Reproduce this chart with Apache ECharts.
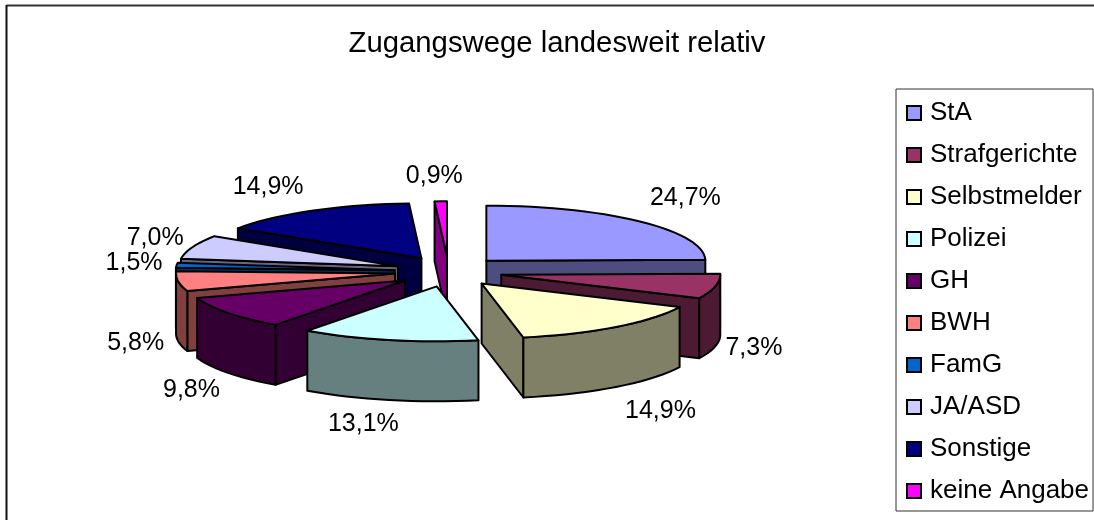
<!DOCTYPE html>
<html><head><meta charset="utf-8">
<style>html,body{margin:0;padding:0;background:#fff}#c{width:1094px;height:520px}</style>
<script src="https://cdn.jsdelivr.net/npm/echarts@6/dist/echarts.min.js"></script>
</head><body><div id="c"></div>
<script>
var categories = ['StA','Strafgerichte','Selbstmelder','Polizei','GH','BWH','FamG','JA/ASD','Sonstige','keine Angabe'];
var percentValues = [24.7,7.3,14.9,13.1,9.8,5.8,1.5,7.0,14.9,0.9];
var topColors = ['#9999FF','#993366','#FFFFCC','#CCFFFF','#660066','#FF8080','#0066CC','#CCCCFF','#000080','#FF00FF'];
var wallColors = ['#4D4D80','#4D1A33','#808066','#668080','#330033','#804040','#003366','#666680','#000040','#800080'];
var paintOrder = [9,8,0,7,6,5,1,4,2,3];
var labelNudge = [[46,-23],[39,64],[45,87],[-25,87],[-36,80],[-42,64],[-42,-1],[-37,-8],[-43,-24],[-6,-25]];

var CX=448.5, CY=271.5, RX=219, RY=55, DEPTH=60, EXPLODE_X=54, EXPLODE_Y=15.2, STROKE=2;
var LABEL_CY=270, LABEL_RY=68.6;
var total = percentValues.reduce(function(a,b){return a+b;},0);
function rad(d){return d*Math.PI/180;}
function fmt(v){return v.toFixed(1).replace('.',',')+'%';}

function makeRender(index){
  return function(params, api){
    var value = api.value(0);
    var before = 0; for(var k=0;k<index;k++) before += percentValues[k];
    var a = before/total*360, b = (before+value)/total*360, m=(a+b)/2;
    var ax = CX+EXPLODE_X*Math.sin(rad(m)), ay = CY-EXPLODE_Y*Math.cos(rad(m));
    function rim(d,h){return [ax+RX*Math.sin(rad(d)), ay-RY*Math.cos(rad(d))+(h||0)];}
    function arc(d0,d1,h){var n=Math.max(2,Math.ceil((d1-d0)/3)),o=[];for(var i=0;i<=n;i++)o.push(rim(d0+(d1-d0)*i/n,h));return o;}
    var line={stroke:'#000',lineWidth:STROKE,lineJoin:'round'};
    var kids=[];
    function poly(points,fill){kids.push({type:'polygon',shape:{points:points},style:Object.assign({fill:fill},line)});}
    function cutFace(d){var r=rim(d);poly([[ax,ay],r,[r[0],r[1]+DEPTH],[ax,ay+DEPTH]],wallColors[index]);}
    if(Math.sin(rad(a))<0) cutFace(a);
    if(Math.sin(rad(b))>0) cutFace(b);
    var w0=Math.max(a,90), w1=Math.min(b,270);
    if(w1>w0){
      poly(arc(w0,w1,0).concat(arc(w0,w1,DEPTH).reverse()),wallColors[index]);
    }
    poly([[ax,ay]].concat(arc(a,b,0)),topColors[index]);
    var rx=448+(RX+EXPLODE_X)*Math.sin(rad(m)), ry=LABEL_CY-LABEL_RY*Math.cos(rad(m));
    kids.push({type:'text',style:{x:rx+labelNudge[index][0],y:ry+labelNudge[index][1],text:fmt(value),
      font:'25px "Liberation Sans", Arial, sans-serif',fill:'#000',align:'center',verticalAlign:'middle'},z2:100});
    return {type:'group',children:kids};
  };
}

var series = categories.map(function(name,i){
  return {type:'custom',name:name,coordinateSystem:'none',silent:true,animation:false,
    z:2+paintOrder.indexOf(i),itemStyle:{color:topColors[i]},
    data:[[percentValues[i]]],renderItem:makeRender(i)};
});

var chart = echarts.init(document.getElementById('c'),null,{renderer:'canvas'});
chart.setOption({
  animation:false,backgroundColor:'#fff',
  title:{text:'Zugangswege landesweit relativ',left:552,top:24,textAlign:'center',
    textStyle:{fontFamily:'"Liberation Sans", Arial, sans-serif',fontSize:29.3,fontWeight:'normal',color:'#000'}},
  legend:{orient:'vertical',left:896,top:89,width:196,height:421,padding:[8,4,4,10],
    borderColor:'#333',borderWidth:1,itemWidth:14,itemHeight:14,itemGap:10,icon:'rect',selectedMode:false,
    itemStyle:{borderColor:'#000',borderWidth:2},
    textStyle:{fontFamily:'"Liberation Sans", Arial, sans-serif',fontSize:26,color:'#000',lineHeight:28,padding:[0,0,4,4]},
    data:categories},
  graphic:[
    {type:'line',silent:true,z:0,shape:{x1:6.5,y1:5.5,x2:1094,y2:5.5},style:{stroke:'#333',lineWidth:2}},
    {type:'line',silent:true,z:0,shape:{x1:6.5,y1:5,x2:6.5,y2:520},style:{stroke:'#111',lineWidth:2}}
  ],
  series:series
});
</script></body></html>
